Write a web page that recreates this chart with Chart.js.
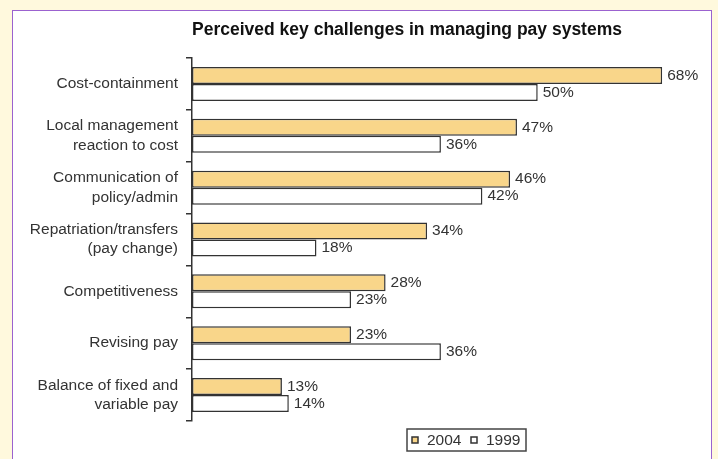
<!DOCTYPE html>
<html>
<head>
<meta charset="utf-8">
<script src="https://cdn.jsdelivr.net/npm/chart.js@4.4.1/dist/chart.umd.min.js"></script>
<style>
  html, body { margin: 0; padding: 0; background: #FFF9DD; overflow: hidden; }
  #frame { position: absolute; left: 12px; top: 10px; width: 698px; height: 520px;
           border: 1.5px solid #9B62CF; background: #ffffff; }
  #c { position: absolute; left: 0; top: 0; }
</style>
</head>
<body>
<div id="frame"></div>
<canvas id="c" width="718" height="459"></canvas>
<script>
const TITLE = 'Perceived key challenges in managing pay systems';
const categories = [
  'Cost-containment',
  ['Local management', 'reaction to cost'],
  ['Communication of', 'policy/admin'],
  ['Repatriation/transfers', '(pay change)'],
  'Competitiveness',
  'Revising pay',
  ['Balance of fixed and', 'variable pay']
];
const seriesNames = ['2004', '1999'];
const values2004 = [68, 47, 46, 34, 28, 23, 13];
const values1999 = [50, 36, 42, 18, 23, 36, 14];
const colors = ['#F9D68A', '#FFFFFF'];
const FONT = 'Arial, "Liberation Sans", sans-serif';

const titlePlugin = {
  id: 'customTitle',
  afterDraw(chart) {
    const ctx = chart.ctx;
    ctx.save();
    ctx.font = 'bold 17.5px ' + FONT;
    ctx.fillStyle = '#111';
    ctx.textAlign = 'center';
    ctx.textBaseline = 'middle';
    ctx.fillText(TITLE, 407, 30);
    ctx.restore();
  }
};

const valueLabels = {
  id: 'valueLabels',
  afterDatasetsDraw(chart) {
    const ctx = chart.ctx;
    ctx.save();
    ctx.font = '15.5px ' + FONT;
    ctx.fillStyle = '#333';
    ctx.textAlign = 'left';
    ctx.textBaseline = 'middle';
    chart.data.datasets.forEach((ds, i) => {
      chart.getDatasetMeta(i).data.forEach((bar, j) => {
        ctx.fillText(ds.data[j] + '%', bar.x + 5, bar.y);
      });
    });
    ctx.restore();
  }
};

const boxLegend = {
  id: 'boxLegend',
  afterDraw(chart) {
    const ctx = chart.ctx;
    ctx.save();
    ctx.strokeStyle = '#444';
    ctx.lineWidth = 1.5;
    ctx.strokeRect(407, 429, 119, 22);
    ctx.font = '15.5px ' + FONT;
    ctx.fillStyle = '#333';
    ctx.textBaseline = 'middle';
    const xs = [412, 471];
    chart.data.datasets.forEach((ds, i) => {
      const x = xs[i];
      ctx.fillStyle = ds.backgroundColor;
      ctx.fillRect(x, 437, 6, 6);
      ctx.strokeStyle = '#333';
      ctx.lineWidth = 1.5;
      ctx.strokeRect(x, 437, 6, 6);
      ctx.fillStyle = '#333';
      ctx.fillText(ds.label, x + 15, 441);
    });
    ctx.restore();
  }
};

new Chart(document.getElementById('c'), {
  type: 'bar',
  data: {
    labels: categories,
    datasets: [
      { label: seriesNames[0], data: values2004, backgroundColor: colors[0],
        borderColor: '#333', borderWidth: 1.5, borderSkipped: false,
        categoryPercentage: 0.655, barPercentage: 1.0 },
      { label: seriesNames[1], data: values1999, backgroundColor: colors[1],
        borderColor: '#333', borderWidth: 1.5, borderSkipped: false,
        categoryPercentage: 0.655, barPercentage: 1.0 }
    ]
  },
  options: {
    indexAxis: 'y',
    responsive: false,
    animation: false,
    layout: { padding: { top: 58, bottom: 38, left: 0, right: 42 } },
    plugins: { legend: { display: false }, title: { display: false }, tooltip: { enabled: false } },
    scales: {
      x: { display: false, min: 0, max: 70 },
      y: {
        afterFit(s) { s.width = 192; },
        grid: { drawOnChartArea: false, drawTicks: true, tickLength: 6, color: '#333', lineWidth: 1.5, offset: true },
        border: { display: true, color: '#333', width: 1.5 },
        ticks: { color: '#333', padding: 8, font: { family: FONT, size: 15.5, lineHeight: 1.25 } }
      }
    }
  },
  plugins: [titlePlugin, valueLabels, boxLegend]
});
</script>
</body>
</html>
